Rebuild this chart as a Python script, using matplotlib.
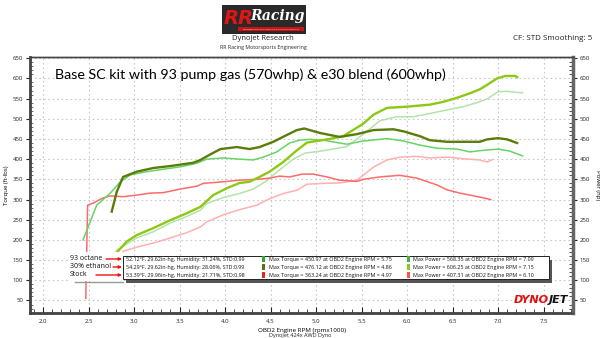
import matplotlib
matplotlib.use("Agg")
import matplotlib.pyplot as plt
from matplotlib.patches import Rectangle
from matplotlib.lines import Line2D
from matplotlib.ticker import MultipleLocator

# ---------------- data ----------------
e30_tq_rpm = [2.755, 2.81, 2.88, 3.03, 3.21, 3.40, 3.65, 3.73, 3.84, 3.95, 4.13, 4.27, 4.38, 4.53,
              4.68, 4.79, 4.87, 5.04, 5.26, 5.45, 5.63, 5.85, 5.96, 6.14, 6.25, 6.44, 6.66, 6.80,
              6.88, 7.00, 7.10, 7.21]
e30_tq = [270, 319, 356, 369, 378, 383, 391, 398, 412, 425, 430, 425, 430, 443,
          460, 472, 476, 465, 455, 462, 472, 474, 469, 457, 447, 443, 443, 443,
          449, 452, 449, 440]

oct_tq_rpm = [2.44, 2.59, 2.74, 2.85, 2.96, 3.14, 3.32, 3.51, 3.69, 3.80, 3.98, 4.16, 4.31, 4.42,
              4.57, 4.71, 4.82, 4.93, 5.08, 5.26, 5.34, 5.52, 5.78, 5.96, 6.14, 6.33, 6.55, 6.69,
              6.80, 7.00, 7.13, 7.27]
oct_tq = [200, 286, 316, 344, 361, 369, 375, 381, 390, 400, 403, 400, 398, 405,
          418, 440, 447, 449, 447, 440, 437, 445, 451, 445, 435, 427, 425, 418,
          421, 425, 420, 408]

stk_tq_rpm = [2.47, 2.49, 2.55, 2.66, 2.74, 2.88, 3.03, 3.18, 3.32, 3.51, 3.69, 3.76, 3.98, 4.16,
              4.35, 4.49, 4.60, 4.71, 4.85, 4.97, 5.12, 5.26, 5.45, 5.52, 5.70, 5.92, 6.11, 6.33,
              6.44, 6.58, 6.80, 6.92]
stk_tq = [55, 286, 291, 304, 309, 307, 311, 316, 317, 326, 333, 340, 344, 348,
          350, 353, 358, 356, 363, 363, 356, 348, 345, 350, 356, 360, 353, 336,
          324, 316, 306, 300]

e30_hp_rpm = [2.78, 2.82, 2.92, 3.03, 3.21, 3.40, 3.58, 3.73, 3.87, 4.02, 4.16, 4.27, 4.38, 4.49,
              4.64, 4.79, 4.90, 5.01, 5.15, 5.30, 5.52, 5.63, 5.78, 6.00, 6.25, 6.40, 6.55, 6.69,
              6.80, 6.88, 6.99, 7.08, 7.19, 7.21]
e30_hp = [150, 171, 196, 212, 229, 249, 266, 282, 311, 328, 341, 344, 356, 369,
          393, 422, 441, 445, 450, 457, 488, 510, 527, 530, 535, 542, 552, 563,
          573, 584, 600, 606, 606, 603]

oct_hp_rpm = [2.78, 2.81, 3.03, 3.21, 3.40, 3.58, 3.73, 3.80, 3.98, 4.16, 4.31, 4.45, 4.58, 4.75,
              4.88, 5.05, 5.26, 5.34, 5.52, 5.70, 5.88, 6.07, 6.25, 6.44, 6.62, 6.77, 6.88, 7.00,
              7.10, 7.27]
oct_hp = [160, 175, 205, 220, 242, 258, 274, 290, 305, 315, 326, 345, 370, 400,
          415, 420, 428, 431, 462, 495, 505, 505, 513, 522, 530, 540, 549, 567,
          568, 564]

stk_hp_rpm = [2.85, 2.88, 3.03, 3.21, 3.40, 3.58, 3.73, 3.80, 3.98, 4.16, 4.35, 4.49, 4.64, 4.79,
              4.90, 5.08, 5.26, 5.45, 5.63, 5.78, 5.92, 6.10, 6.25, 6.44, 6.62, 6.80, 6.88, 6.94]
stk_hp = [160, 172, 182, 192, 205, 218, 232, 245, 262, 275, 286, 302, 315, 323,
          338, 340, 341, 348, 380, 398, 405, 407, 403, 405, 401, 398, 393, 399]

run_names = ["93 octane", "30% ethanol", "Stock"]
run_conditions = ["52.12°F, 29.62in-hg, Humidity: 31.24%, STD:0.99",
                  "54.29°F, 29.62in-hg, Humidity: 28.06%, STD:0.99",
                  "53.39°F, 29.96in-hg, Humidity: 21.71%, STD:0.98"]
max_tq_vals = ["450.97", "476.12", "363.24"]
max_tq_rpm = ["5.75", "4.86", "4.97"]
max_hp_vals = ["568.35", "606.25", "407.31"]
max_hp_rpm = ["7.09", "7.15", "6.10"]

x_ticks = [2.0, 2.5, 3.0, 3.5, 4.0, 4.5, 5.0, 5.5, 6.0, 6.5, 7.0, 7.5]
y_ticks = list(range(50, 651, 50))

# colours
c_oct_tq = "#66d466"
c_oct_hp = "#b4e3aa"
c_e30_tq = "#5a7d0a"
c_e30_hp = "#8cc814"
c_stk_tq = "#ff6a6a"
c_stk_hp = "#ffb0b0"

sq_tq = ["#2fa82f", "#557711", "#ee2222"]
sq_hp = ["#44b044", "#88cc22", "#ff5050"]

FONT = ["Open Sans", "DejaVu Sans"]
plt.rcParams["font.family"] = FONT

W, H = 600, 338
fig = plt.figure(figsize=(6, 3.38), dpi=100)


def fx(px):
    return px / W


def fy(py):
    return 1 - py / H


ax = fig.add_axes([fx(30), fy(313), fx(573) - fx(30), fy(57) - fy(313)])
ax2 = ax.twinx()
ax.set_xlim(1.857, 7.824)
ax.set_ylim(19, 653)
ax2.set_ylim(19, 653)

ax.plot(stk_hp_rpm, stk_hp, color=c_stk_hp, lw=1.1, zorder=2)
ax.plot(oct_hp_rpm, oct_hp, color=c_oct_hp, lw=1.1, zorder=2)
ax.plot(stk_tq_rpm, stk_tq, color=c_stk_tq, lw=1.1, zorder=3)
ax.plot(oct_tq_rpm, oct_tq, color=c_oct_tq, lw=1.1, zorder=3)
ax.plot(e30_hp_rpm, e30_hp, color=c_e30_hp, lw=1.7, zorder=4)
ax.plot(e30_tq_rpm, e30_tq, color=c_e30_tq, lw=1.7, zorder=5)

ax.set_xticks(x_ticks)
ax.set_xticklabels([f"{v:.1f}" for v in x_ticks])
ax.xaxis.set_minor_locator(MultipleLocator(0.1))
ax.set_yticks(y_ticks)
ax.yaxis.set_minor_locator(MultipleLocator(10))
ax2.set_yticks(y_ticks)
ax2.yaxis.set_minor_locator(MultipleLocator(10))
ax.grid(True, which="major", color="#c8c8c8", linestyle=(0, (1.5, 2.5)), lw=0.8)
ax.tick_params(axis="x", which="major", direction="in", length=4, labelsize=4.3, pad=4,
               colors="#222222")
ax.tick_params(axis="x", which="minor", direction="in", length=3, colors="#333333")
ax.tick_params(axis="y", which="major", direction="out", length=3, labelsize=4.3, pad=2,
               colors="#222222")
ax.tick_params(axis="y", which="minor", direction="in", length=2, colors="#555555")
ax2.tick_params(axis="y", which="major", direction="out", length=3, labelsize=4.3, pad=2,
                colors="#222222")
ax2.tick_params(axis="y", which="minor", direction="in", length=3, colors="#333333")
for a in (ax, ax2):
    for s in a.spines.values():
        s.set_color("#444444")
        s.set_linewidth(1.0)
ax.spines["left"].set_linewidth(2.0)
ax.spines["bottom"].set_linewidth(2.0)
ax2.spines["right"].set_linewidth(2.5)
ax2.spines["right"].set_color("#666666")

ax.set_ylabel("Torque (ft-lbs)", fontsize=4.3, labelpad=3)
ax2.set_ylabel("Power (hp)", fontsize=4.3, rotation=270, labelpad=7)
ax.set_xlabel("OBD2 Engine RPM (rpmx1000)", fontsize=4.5, labelpad=3)

# title inside plot
fig.text(fx(55), fy(75), "Base SC kit with 93 pump gas (570whp) & e30 blend (600whp)",
         fontsize=10.3, family=["Lato", "DejaVu Sans"], va="center", ha="left", color="black")

# header
fig.patches.append(Rectangle((fx(222), fy(33)), fx(83), fy(5) - fy(33), transform=fig.transFigure,
                             facecolor="#2a2a2a", edgecolor="#111111", lw=0.6))
fig.patches.append(Rectangle((fx(238), fy(31)), fx(66), fy(27) - fy(31), transform=fig.transFigure,
                             facecolor="#cc1111", edgecolor="none"))
fig.text(fx(224), fy(18), "RR", fontsize=14, fontweight="bold", style="italic", color="#e01515",
         va="center", ha="left", family=["DejaVu Sans"])
fig.text(fx(250), fy(16), "Racing", fontsize=10, style="italic", fontweight="bold",
         color="white", va="center", ha="left", family=["DejaVu Serif"])
fig.text(fx(271), fy(29), "MOTORSPORTS ENGINEERING & TUNING SINCE 2007", fontsize=1.6,
         color="white", va="center", ha="center")
fig.text(fx(263), fy(39), "Dynojet Research", fontsize=5.5, ha="center", va="center",
         color="#222222")
fig.text(fx(263), fy(48), "RR Racing Motorsports Engineering", fontsize=3.8, ha="center",
         va="center", color="#222222")
fig.text(fx(592), fy(39), "CF: STD Smoothing: 5", fontsize=5.8, ha="right", va="center",
         color="#222222")
fig.text(fx(300), fy(335), "DynoJet 424x AWD Dyno", fontsize=4, ha="center", va="center",
         color="#222222")

# Dynojet logo
fig.text(fx(568), fy(300), "JET", fontsize=8, fontweight="bold", style="italic", color="#111111",
         ha="right", va="center", family=["DejaVu Sans"], zorder=10)
fig.text(fx(549), fy(300), "DYNO", fontsize=8, fontweight="bold", style="italic", color="#e01010",
         ha="right", va="center", family=["DejaVu Sans"], zorder=10)

# legend box with shadow
bx0, bx1, by0, by1 = 123, 549, 256, 279
fig.patches.append(Rectangle((fx(bx0 + 3), fy(by1 + 4)), fx(bx1 - bx0), fy(by0) - fy(by1),
                             transform=fig.transFigure, facecolor="#555555", edgecolor="none",
                             zorder=5))
fig.patches.append(Rectangle((fx(bx0), fy(by1)), fx(bx1 - bx0), fy(by0) - fy(by1),
                             transform=fig.transFigure, facecolor="white", edgecolor="#222222",
                             lw=0.7, zorder=6))
# label area
fig.patches.append(Rectangle((fx(68), fy(281)), fx(bx0 - 68), fy(252) - fy(281),
                             transform=fig.transFigure, facecolor="white", edgecolor="none",
                             zorder=5))
fig.lines.append(Line2D([fx(75), fx(bx0)], [fy(281.5), fy(281.5)], transform=fig.transFigure,
                        color="#999999", lw=1.0, zorder=6))

row_y = [259, 267, 275]
arrow_start = [106, 113, 96]
LEG_FS = 3.9
for i in range(3):
    yy = fy(row_y[i])
    fig.text(fx(70), yy, run_names[i], fontsize=5, ha="left", va="center", color="#111111",
             zorder=7)
    fig.add_artist(plt.Annotation("", xy=(fx(bx0 - 1), yy), xytext=(fx(arrow_start[i]), yy),
                                  xycoords="figure fraction", textcoords="figure fraction",
                                  arrowprops=dict(arrowstyle="-|>", color="#ee1111", lw=1.0,
                                                  mutation_scale=4, shrinkA=0, shrinkB=0),
                                  zorder=8))
    fig.text(fx(126), yy, run_conditions[i], fontsize=LEG_FS, ha="left", va="center",
             color="#111111", zorder=7)
    fig.patches.append(Rectangle((fx(261.5), yy - 0.0075), fx(3.5), 0.015,
                                 transform=fig.transFigure, facecolor=sq_tq[i], edgecolor="none",
                                 zorder=7))
    fig.text(fx(269), yy, f"Max Torque = {max_tq_vals[i]} at OBD2 Engine RPM = {max_tq_rpm[i]}",
             fontsize=LEG_FS, ha="left", va="center", color="#111111", zorder=7)
    fig.patches.append(Rectangle((fx(406.5), yy - 0.0075), fx(3.5), 0.015,
                                 transform=fig.transFigure, facecolor=sq_hp[i], edgecolor="none",
                                 zorder=7))
    fig.text(fx(413), yy, f"Max Power = {max_hp_vals[i]} at OBD2 Engine RPM = {max_hp_rpm[i]}",
             fontsize=LEG_FS, ha="left", va="center", color="#111111", zorder=7)

fig.savefig("out.png", dpi=100)
